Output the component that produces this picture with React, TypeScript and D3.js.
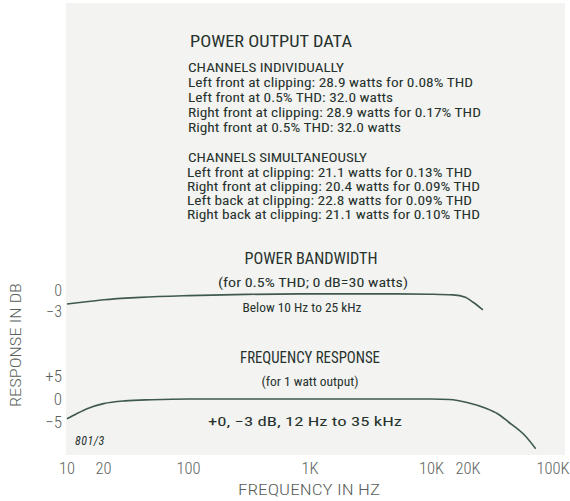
import React from "react";
import * as d3 from "d3";

const W = 570;
const H = 501;

// X axis (log frequency)
const xTickValues = [10, 20, 100, 1000, 10000, 20000, 100000];
const xTickLabels = ["10", "20", "100", "1K", "10K", "20K", "100K"];

// Power bandwidth curve (Hz, dB re 30 W)
const powerFreq = [10, 15, 20, 40, 100, 300, 1000, 5000, 10000, 15000, 19000, 22000, 26500];
const powerDb = [-2.0, -1.65, -1.4, -1.05, -0.8, -0.63, -0.55, -0.55, -0.6, -0.7, -1.05, -1.75, -2.85];
const powerTickValues = [0, -3];
const powerTickLabels = ["0", "\u22123"];

// Frequency response curve (Hz, dB at 1 W)
const respFreq = [10, 12, 15, 20, 30, 50, 100, 1000, 10000, 14000, 20000, 28000, 35000, 43000, 59000, 72000];
const respDb = [-4.3, -3.2, -2.0, -1.0, -0.4, -0.15, 0, 0, 0, -0.1, -0.8, -2.0, -3.2, -5.0, -8.0, -10.8];
const respTickValues = [5, 0, -5];
const respTickLabels = ["+5", "0", "\u22125"];

// Text block
const headerTitle = "POWER OUTPUT DATA";
const individualTitle = "CHANNELS INDIVIDUALLY";
const individualLines = [
  "Left front at clipping: 28.9 watts for 0.08% THD",
  "Left front at 0.5% THD: 32.0 watts",
  "Right front at clipping: 28.9 watts for 0.17% THD",
  "Right front at 0.5% THD: 32.0 watts",
];
const individualWidths = [285, 205, 293, 213];
const simultaneousTitle = "CHANNELS SIMULTANEOUSLY";
const simultaneousLines = [
  "Left front at clipping: 21.1 watts for 0.13% THD",
  "Right front at clipping: 20.4 watts for 0.09% THD",
  "Left back at clipping: 22.8 watts for 0.09% THD",
  "Right back at clipping: 21.1 watts for 0.10% THD",
];
const simultaneousWidths = [285, 293, 285, 293];

const pbTitle = "POWER BANDWIDTH";
const pbSub = "(for 0.5% THD; 0 dB=30 watts)";
const pbNote = "Below 10 Hz to 25 kHz";
const frTitle = "FREQUENCY RESPONSE";
const frSub = "(for 1 watt output)";
const frNote = "+0, \u22123 dB, 12 Hz to 35 kHz";
const figId = "801/3";
const xTitle = "FREQUENCY IN HZ";
const yTitle = "RESPONSE IN DB";

const FONT = "'Roboto Condensed', Roboto, 'Liberation Sans', sans-serif";
const INK = "#26322c";
const CURVE = "#3f5a4d";
const TICK = "#5a5f5c";

export default function App() {
  const x = d3.scaleLog().domain([10, 100000]).range([67, 553]);
  const yPower = d3.scaleLinear().domain([-3, 0]).range([311, 290]);
  const yResp = d3.scaleLinear().domain([-5, 5]).range([422, 376]);

  const powerPts = powerFreq.map((f, i) => [f, powerDb[i]] as [number, number]);
  const respPts = respFreq.map((f, i) => [f, respDb[i]] as [number, number]);

  const powerLine = d3
    .line<[number, number]>()
    .x((d) => x(d[0]))
    .y((d) => yPower(d[1]))
    .curve(d3.curveMonotoneX);
  const respLine = d3
    .line<[number, number]>()
    .x((d) => x(d[0]))
    .y((d) => yResp(d[1]))
    .curve(d3.curveMonotoneX);

  const body = {
    fontSize: 13.5,
    fill: INK,
    fontWeight: 400,
    lengthAdjust: "spacingAndGlyphs",
  } as const;

  return (
    <svg
      width={W}
      height={H}
      viewBox={`0 0 ${W} ${H}`}
      style={{ position: "absolute", left: 0, top: 0, background: "#ffffff" }}
      fontFamily={FONT}
    >
      <rect x={66} y={3} width={499} height={452} fill="#f3f3f2" />

      {/* Text block */}
      <text x={190} y={47} fontSize={17} fill={INK} textLength={162} lengthAdjust="spacingAndGlyphs">
        {headerTitle}
      </text>
      <text x={188} y={71.5} {...body} fontSize={13} textLength={156}>
        {individualTitle}
      </text>
      {individualLines.map((t, i) => (
        <text key={"i" + i} x={188} y={86.5 + i * 15} {...body} textLength={individualWidths[i]}>
          {t}
        </text>
      ))}
      <text x={188} y={161.5} {...body} fontSize={13} textLength={179}>
        {simultaneousTitle}
      </text>
      {simultaneousLines.map((t, i) => (
        <text key={"s" + i} x={187} y={176.5 + i * 14} {...body} fontSize={12.5} textLength={simultaneousWidths[i]}>
          {t}
        </text>
      ))}

      {/* Power bandwidth */}
      <text x={311} y={263.5} fontSize={16.5} fill={INK} textAnchor="middle" textLength={133} lengthAdjust="spacingAndGlyphs">
        {pbTitle}
      </text>
      <text x={313} y={287} {...body} fontSize={13} textAnchor="middle" textLength={190}>
        {pbSub}
      </text>
      <text x={302} y={312} {...body} fontSize={13} textAnchor="middle" textLength={119}>
        {pbNote}
      </text>
      <path d={powerLine(powerPts) || ""} fill="none" stroke={CURVE} strokeWidth={1.6} />

      {/* Frequency response */}
      <text x={310} y={362.5} fontSize={16.5} fill={INK} textAnchor="middle" textLength={140} lengthAdjust="spacingAndGlyphs">
        {frTitle}
      </text>
      <text x={310} y={386} {...body} fontSize={13} textAnchor="middle" textLength={97}>
        {frSub}
      </text>
      <text x={305} y={426} {...body} fontSize={13} textAnchor="middle" textLength={194}>
        {frNote}
      </text>
      <path d={respLine(respPts) || ""} fill="none" stroke={CURVE} strokeWidth={1.6} />

      {/* Y tick labels */}
      {powerTickValues.map((v, i) => (
        <text key={"pt" + i} x={62} y={yPower(v) + 5.5} fontSize={16} fill={TICK} textAnchor="end" fontWeight={300}>
          {powerTickLabels[i]}
        </text>
      ))}
      {respTickValues.map((v, i) => (
        <text key={"rt" + i} x={62} y={yResp(v) + 6} fontSize={17} fill={TICK} textAnchor="end" fontWeight={300}>
          {respTickLabels[i]}
        </text>
      ))}

      {/* Y title */}
      <text
        transform="translate(21,345) rotate(-90)"
        fontSize={15}
        fill={TICK}
        fontWeight={300}
        textAnchor="middle"
        textLength={124}
        lengthAdjust="spacingAndGlyphs"
      >
        {yTitle}
      </text>

      {/* Figure id */}
      <text x={75} y={445} fontSize={12} fill={INK} fontStyle="italic" letterSpacing={0.5}>
        {figId}
      </text>

      {/* X tick labels */}
      {xTickValues.map((v, i) => (
        <text key={"xt" + i} x={x(v)} y={474} fontSize={16.5} fill={TICK} fontWeight={300} textAnchor="middle">
          {xTickLabels[i]}
        </text>
      ))}
      <text
        x={309}
        y={494.5}
        fontSize={15}
        fill={TICK}
        fontWeight={300}
        textAnchor="middle"
        textLength={142}
        lengthAdjust="spacingAndGlyphs"
      >
        {xTitle}
      </text>
    </svg>
  );
}
